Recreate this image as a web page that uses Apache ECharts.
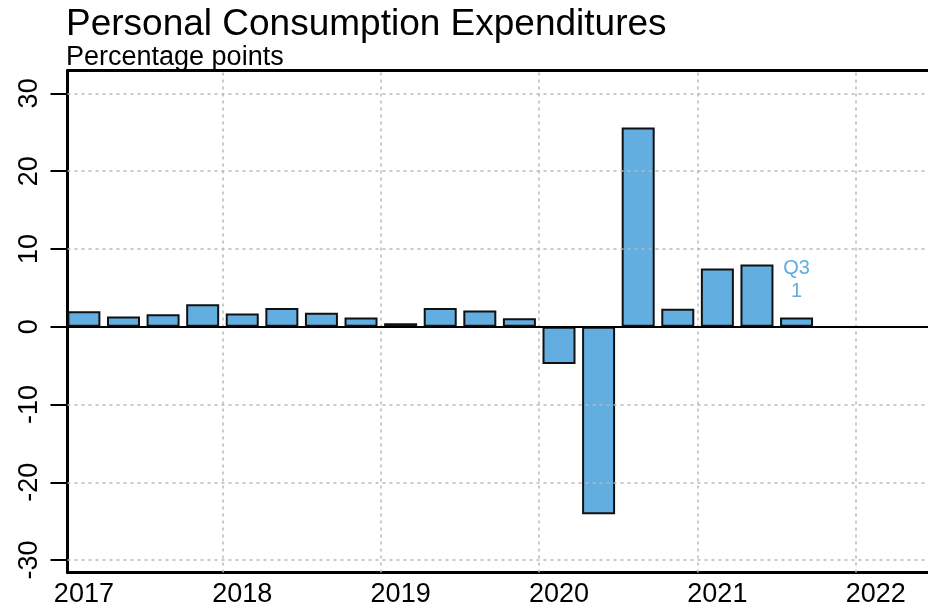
<!DOCTYPE html>
<html>
<head>
<meta charset="utf-8">
<script src="https://cdn.jsdelivr.net/npm/echarts@6/dist/echarts.min.js"></script>
<style>
html,body{margin:0;padding:0;background:#fff;}
#chart{width:928px;height:610px;}
</style>
</head>
<body>
<div id="chart"></div>
<script>
// ---- data ----
const quarters = ['2017Q1','2017Q2','2017Q3','2017Q4','2018Q1','2018Q2','2018Q3','2018Q4',
  '2019Q1','2019Q2','2019Q3','2019Q4','2020Q1','2020Q2','2020Q3','2020Q4',
  '2021Q1','2021Q2','2021Q3'];
const values = [2.0, 1.3, 1.6, 2.9, 1.7, 2.4, 1.8, 1.2,
  0.45, 2.4, 2.1, 1.1, -4.8, -24.1, 25.6, 2.3,
  7.5, 8.0, 1.2];
const yearLabels = ['2017','2018','2019','2020','2021','2022'];
const yTicks = [-30, -20, -10, 0, 10, 20, 30];
const titleText = 'Personal Consumption Expenditures';
const subtitleText = 'Percentage points';

// ---- build ----
const qx = q => parseInt(q.slice(0,4)) + (parseInt(q.slice(5)) - 1) / 4 + 0.125;
const barData = quarters.map((q, i) => {
  const item = { value: [qx(q), values[i]] };
  if (i === quarters.length - 1) {
    item.label = {
      show: true, position: 'top', distance: 14,
      formatter: q.slice(4) + '\n' + Math.round(values[i]),
      color: '#5DADE2', fontSize: 20, lineHeight: 23,
      fontFamily: 'Liberation Sans, Arial, sans-serif'
    };
  }
  return item;
});
const yearNums = yearLabels.map(Number);
const gridStyle = { color: '#b8b8b8', width: 1.5, type: [3, 4] };
const markData = [];
yTicks.filter(v => v !== 0).forEach(v => markData.push({ yAxis: v, lineStyle: gridStyle }));
yearNums.slice(1).forEach(v => markData.push({ xAxis: v, lineStyle: gridStyle }));
markData.push({ yAxis: 0, lineStyle: { color: '#000', width: 2, type: 'solid' } });

const font = "'Liberation Sans', Arial, sans-serif";
const XMIN = 2017.0215, XMAX = 2022.455;

const chart = echarts.init(document.getElementById('chart'), null, { renderer: 'canvas' });
chart.setOption({
  animation: false,
  backgroundColor: '#fff',
  title: [
    { text: titleText, left: 66, top: 6, padding: 0,
      textStyle: { fontSize: 37, fontWeight: 'normal', color: '#000', fontFamily: font } },
    { text: subtitleText, left: 66, top: 44, padding: 0,
      textStyle: { fontSize: 27, fontWeight: 'normal', color: '#000', fontFamily: font } }
  ],
  grid: { left: 67.5, right: 0, top: 70.5, bottom: 37.5, containLabel: false },
  xAxis: [
    { type: 'value', min: XMIN, max: XMAX, position: 'bottom',
      axisLine: { show: true, onZero: false, lineStyle: { color: '#000', width: 3 } },
      axisTick: { show: false },
      splitLine: { show: false },
      axisLabel: { show: true, customValues: yearNums.map(y => y + 0.125),
        formatter: v => String(Math.floor(v)), margin: 9,
        fontSize: 27, color: '#000', fontFamily: font,
        showMinLabel: true, showMaxLabel: true } },
    { type: 'value', min: XMIN, max: XMAX, position: 'top',
      axisLine: { show: true, onZero: false, lineStyle: { color: '#000', width: 3 } },
      axisTick: { show: false }, axisLabel: { show: false }, splitLine: { show: false } }
  ],
  yAxis: {
    type: 'value', min: -31.6, max: 32.94,
    axisLine: { show: true, onZero: false, lineStyle: { color: '#000', width: 3 } },
    axisTick: { show: true, customValues: yTicks, length: 17, inside: false,
      lineStyle: { color: '#000', width: 2 } },
    axisLabel: { show: true, customValues: yTicks, rotate: 90, margin: 24,
      fontSize: 27, color: '#000', fontFamily: font },
    splitLine: { show: false }
  },
  series: [{
    type: 'bar',
    xAxisIndex: 0,
    data: barData,
    barWidth: 33,
    itemStyle: { color: '#62AEE0', borderColor: '#111', borderWidth: 2 },
    markLine: { silent: true, symbol: ['none', 'none'], label: { show: false },
      animation: false, data: markData }
  }]
});
</script>
</body>
</html>
